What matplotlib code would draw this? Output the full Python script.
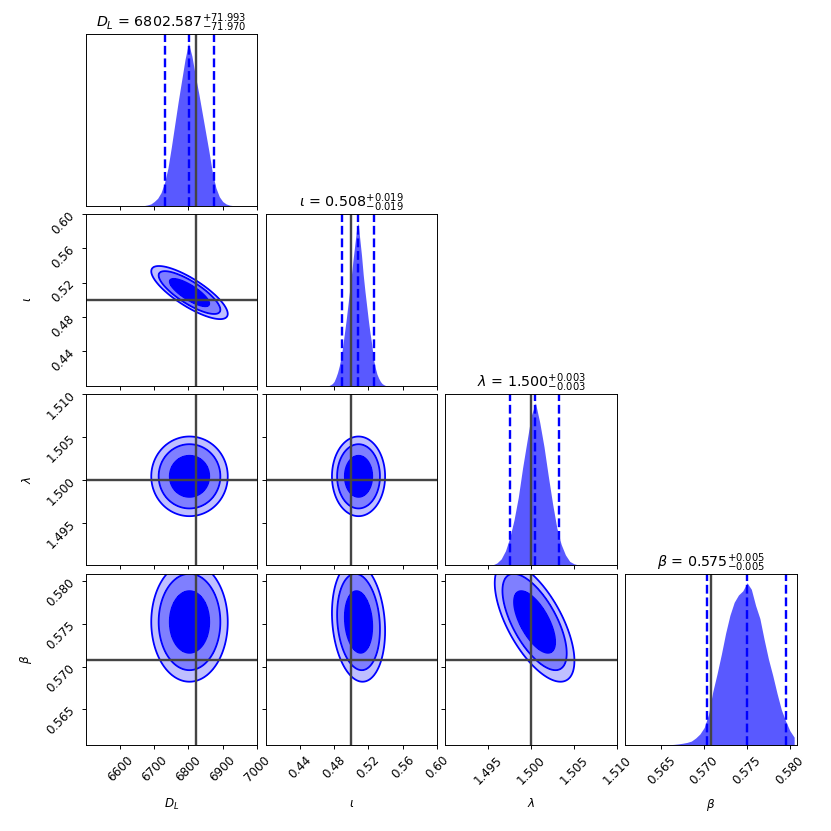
import numpy as np
import matplotlib.pyplot as plt

# parameter info
labels = [r"$D_L$", r"$\iota$", r"$\lambda$", r"$\beta$"]
ranges = [(6500, 7000), (0.40, 0.60), (1.490, 1.510), (0.5608, 0.5808)]
ticks = [[6600, 6700, 6800, 6900, 7000],
         [0.44, 0.48, 0.52, 0.56, 0.60],
         [1.495, 1.500, 1.505, 1.510],
         [0.565, 0.570, 0.575, 0.580]]
tick_fmt = ["{:.0f}", "{:.2f}", "{:.3f}", "{:.3f}"]
truths = [6822, 0.500, 1.500, 0.5708]

# median and 16/84 quantile offsets
medians = [6802.587, 0.508, 1.5004, 0.57498]
err_lo = [71.970, 0.019, 0.0029, 0.0047]
err_hi = [71.993, 0.019, 0.0029, 0.0046]

# 1D marginals (start, spacing, heights)
dl_start, dl_step = 6670, 10
dl_hist = [0.0, 0.004, 0.01, 0.025, 0.045, 0.08, 0.14, 0.23, 0.36, 0.50, 0.64,
           0.77, 0.90, 1.00, 0.92, 0.80, 0.69, 0.57, 0.45, 0.33, 0.20, 0.11,
           0.055, 0.025, 0.01, 0.003, 0.0]
iota_start, iota_step = 0.474, 0.002
iota_hist = [0.0, 0.005, 0.012, 0.025, 0.05, 0.08, 0.12, 0.17, 0.24, 0.32, 0.40,
             0.49, 0.58, 0.67, 0.77, 0.86, 0.95, 1.00, 0.90, 0.80, 0.68, 0.58,
             0.49, 0.40, 0.32, 0.25, 0.16, 0.11, 0.07, 0.045, 0.025, 0.012,
             0.005, 0.0]
lam_start, lam_step = 1.4950, 0.0005
lam_hist = [0.0, 0.003, 0.015, 0.04, 0.09, 0.17, 0.28, 0.42, 0.60, 0.76, 0.92,
            1.00, 0.88, 0.73, 0.55, 0.38, 0.23, 0.13, 0.065, 0.025, 0.01,
            0.003, 0.0]
beta_start, beta_step = 0.5640, 0.0005
beta_hist = [0.0, 0.001, 0.002, 0.003, 0.004, 0.006, 0.009, 0.013, 0.018,
             0.026, 0.045, 0.07, 0.11, 0.19, 0.33, 0.44, 0.56, 0.69, 0.80,
             0.88, 0.925, 0.95, 1.00, 0.96, 0.86, 0.78, 0.65, 0.53, 0.43,
             0.32, 0.22, 0.15, 0.09, 0.05]
hists = [(dl_start, dl_step, dl_hist), (iota_start, iota_step, iota_hist),
         (lam_start, lam_step, lam_hist), (beta_start, beta_step, beta_hist)]

# 2D contours: centres, widths, correlations, contour radii (in sigma)
centres = [6803, 0.5085, 1.5004, 0.5752]
widths = [72, 0.020, 0.0030, 0.0045]
corr = {(0, 1): -0.80, (0, 2): 0.0, (0, 3): 0.0,
        (1, 2): 0.0, (1, 3): -0.15, (2, 3): -0.65}
radii = [0.8, 1.25, 1.55]

K = 4
factor = 2.0
lbdim = 0.5 * factor
trdim = 0.2 * factor
whspace = 0.05
plotdim = factor * K + factor * (K - 1.0) * whspace
dim = lbdim + plotdim + trdim
fig, axes = plt.subplots(K, K, figsize=(dim, dim))
lb = lbdim / dim
tr = (lbdim + plotdim) / dim
fig.subplots_adjust(left=lb, bottom=lb, right=tr, top=tr,
                    wspace=whspace, hspace=whspace)

blue = "blue"
truth_c = "#444444"

for i in range(K):
    for j in range(K):
        ax = axes[i, j]
        if j > i:
            ax.set_frame_on(False)
            ax.set_xticks([])
            ax.set_yticks([])
            continue
        if i == j:
            start, step, h = hists[i]
            x = start + step * np.arange(len(h))
            ax.fill_between(x, h, color=blue, alpha=0.65, linewidth=0)
            q = [medians[i] - err_lo[i], medians[i], medians[i] + err_hi[i]]
            for v in q:
                ax.axvline(v, color=blue, ls="--", lw=2)
            ax.axvline(truths[i], color=truth_c, lw=2)
            ax.set_xlim(ranges[i])
            ax.set_ylim(0, 1.054)
            ax.set_yticks([])
            t = r"{} = ${:.3f}^{{+{:.3f}}}_{{-{:.3f}}}$".format(
                labels[i], medians[i], err_hi[i], err_lo[i])
            ax.set_title(t, fontsize=12)
        else:
            # x param j, y param i
            xs = np.linspace(ranges[j][0], ranges[j][1], 300)
            ys = np.linspace(ranges[i][0], ranges[i][1], 300)
            X, Y = np.meshgrid(xs, ys)
            rho = corr[(j, i)]
            dx = (X - centres[j]) / widths[j]
            dy = (Y - centres[i]) / widths[i]
            m2 = (dx ** 2 - 2 * rho * dx * dy + dy ** 2) / (1 - rho ** 2)
            lev = [r ** 2 for r in radii]
            ax.contourf(X, Y, m2, levels=[0] + lev,
                        colors=[(0, 0, 1, 1.0), (0, 0, 1, 0.5), (0, 0, 1, 0.25)])
            ax.contour(X, Y, m2, levels=lev, colors=blue, linewidths=1.5)
            ax.axvline(truths[j], color=truth_c, lw=2)
            ax.axhline(truths[i], color=truth_c, lw=2)
            ax.set_xlim(ranges[j])
            ax.set_ylim(ranges[i])
            ax.set_yticks(ticks[i])
            if j == 0:
                ax.set_yticklabels([tick_fmt[i].format(v) for v in ticks[i]],
                                   rotation=45)
                ax.set_ylabel(labels[i])
                ax.yaxis.set_label_coords(-0.3, 0.5)
            else:
                ax.set_yticklabels([])
        ax.set_xticks(ticks[j])
        if i == K - 1:
            ax.set_xticklabels([tick_fmt[j].format(v) for v in ticks[j]],
                               rotation=45)
            ax.set_xlabel(labels[j])
            ax.xaxis.set_label_coords(0.5, -0.3)
        else:
            ax.set_xticklabels([])

fig.savefig("out.png", dpi=831 / dim)
